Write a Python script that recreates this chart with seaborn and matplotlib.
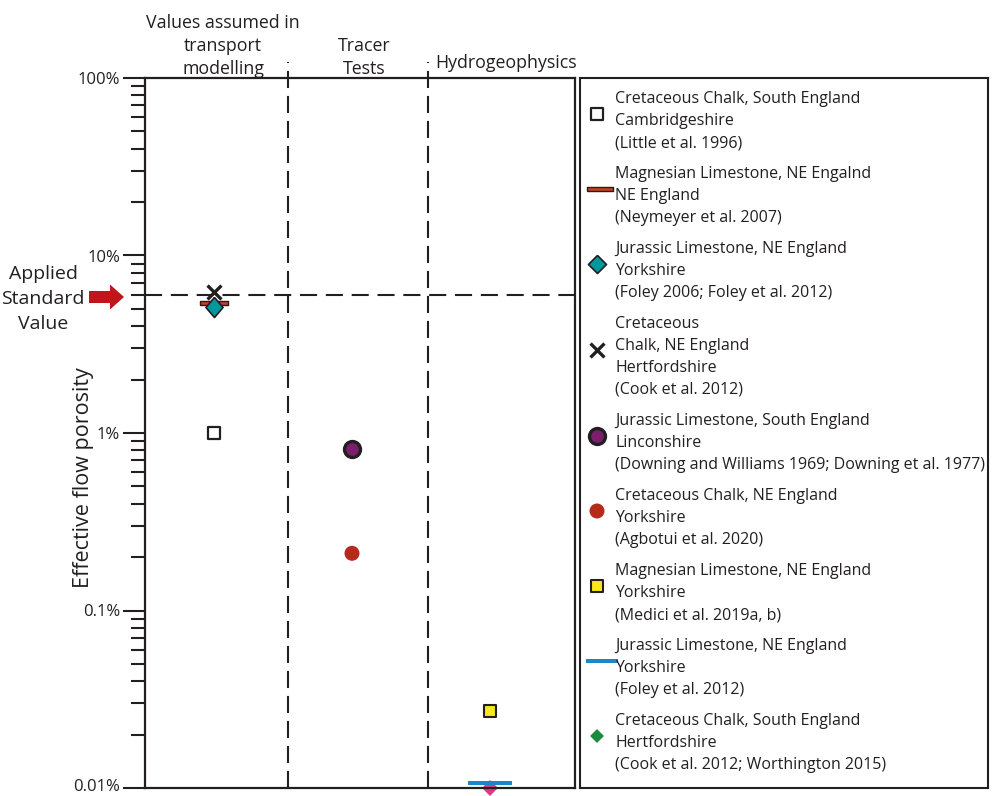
import numpy as np
import pandas as pd
import matplotlib
matplotlib.use("Agg")
import matplotlib.pyplot as plt
from matplotlib.patches import FancyArrow
from matplotlib.ticker import LogLocator, NullFormatter
from matplotlib.transforms import ScaledTranslation
import seaborn as sns

# ---- data -------------------------------------------------------------
methods = ["Values assumed in\ntransport\nmodelling", "Tracer\nTests", "Hydrogeophysics"]

series_labels = [
    "Cretaceous Chalk, South England\nCambridgeshire\n(Little et al. 1996)",
    "Magnesian Limestone, NE Engalnd\nNE England\n(Neymeyer et al. 2007)",
    "Jurassic Limestone, NE England\nYorkshire\n(Foley 2006; Foley et al. 2012)",
    "Cretaceous\nChalk, NE England\nHertfordshire\n(Cook et al. 2012)",
    "Jurassic Limestone, South England\nLinconshire\n(Downing and Williams 1969; Downing et al. 1977)",
    "Cretaceous Chalk, NE England\nYorkshire\n(Agbotui et al. 2020)",
    "Magnesian Limestone, NE England\nYorkshire\n(Medici et al. 2019a, b)",
    "Jurassic Limestone, NE England\nYorkshire\n(Foley et al. 2012)",
    "Cretaceous Chalk, South England\nHertfordshire\n(Cook et al. 2012; Worthington 2015)",
]
series_method = [0, 0, 0, 0, 1, 1, 2, 2, 2]
series_porosity = [1.0, 5.4, 5.1, 6.2, 0.81, 0.21, 0.027, 0.0107, 0.0100]  # percent

applied_standard = 6.0  # percent
tick_values = [0.01, 0.1, 1, 10, 100]
tick_labels = ["0.01%", "0.1%", "1%", "10%", "100%"]

df = pd.DataFrame({"method": series_method, "porosity": series_porosity,
                   "label": series_labels})

# ---- marker styles ------------------------------------------------------
INK = "#231f20"


def bar(aspect):
    return [(-1, -aspect), (1, -aspect), (1, aspect), (-1, aspect), (-1, -aspect)]


DIAMOND_TALL = [(0, 1), (0.85, 0), (0, -1), (-0.85, 0), (0, 1)]
DIAMOND = [(0, 1), (1, 0), (0, -1), (-1, 0), (0, 1)]

styles = [
    dict(marker="s", size=8.6, face="white", edge=INK, lw=1.6, z=3),
    dict(marker=bar(0.13), size=20.5, face="#C8401E", edge=INK, lw=1.0, z=3),
    dict(marker=DIAMOND_TALL, size=14.5, face="#00979D", edge=INK, lw=1.2, z=3.5),
    dict(marker="x", size=10, face=INK, edge=None, lw=2.4, z=4),
    dict(marker="o", size=11.5, face="#7B1E6C", edge=INK, lw=2.4, z=3),
    dict(marker="o", size=10.8, face="#B52A1B", edge="none", lw=0, z=3),
    dict(marker="s", size=8.6, face="#F7E71C", edge=INK, lw=1.5, z=3),
    dict(marker=bar(0.1), size=31.7, face="#1B87C8", edge="none", lw=0, z=3),
    dict(marker=DIAMOND, size=11.5, face="#E0398C", edge="none", lw=0, z=1),
]
# legend swatches that differ from the plotted symbol
legend_overrides = {
    1: dict(size=18.7),
    2: dict(marker=DIAMOND, size=13),
    7: dict(marker=bar(0.12), size=23.7),
    8: dict(face="#1A8A3F", size=10),
}

# ---- figure -------------------------------------------------------------
sns.set_theme(style="ticks")
plt.rcParams["font.family"] = ["Open Sans", "DejaVu Sans"]
plt.rcParams["text.color"] = INK

W, H = 996, 796
fig = plt.figure(figsize=(W / 100, H / 100), dpi=100)


def fx(px):
    return px / W


def fy(py):
    return 1 - py / H


ax = fig.add_axes([fx(145), fy(788), fx(575) - fx(145), fy(78) - fy(788)])
ax.set_yscale("log")

for i, row in df.iterrows():
    st = styles[i]
    kws = dict(marker=st["marker"], s=st["size"] ** 2, color=st["face"],
               linewidth=st["lw"], zorder=st["z"], clip_on=False, legend=False)
    if st["edge"] is not None:
        kws["edgecolor"] = st["edge"]
    sns.scatterplot(data=df.iloc[[i]], x="method", y="porosity", ax=ax, **kws)

ax.set_xlim(-0.5, 2.616)
ax.set_ylim(0.01, 100)
ax.set_xlabel("")
ax.set_ylabel("")
ax.set_xticks([])
ax.set_yticks(tick_values, tick_labels)
ax.yaxis.set_minor_locator(LogLocator(base=10, subs=np.arange(2, 10)))
ax.yaxis.set_minor_formatter(NullFormatter())
ax.tick_params(axis="y", which="major", length=16, width=1.5, pad=2,
               labelsize=12, color=INK, labelcolor=INK, left=True)
ax.tick_params(axis="y", which="minor", length=10, width=1.5, color=INK, left=True)
ax.tick_params(axis="x", which="both", bottom=False)
for sp in ax.spines.values():
    sp.set_color(INK)
    sp.set_linewidth(1.6)
    sp.set_visible(True)

# lift the lowest tick label a little so it stays inside the canvas
low_label = ax.yaxis.get_major_ticks()[0].label1
low_label.set_transform(low_label.get_transform()
                        + ScaledTranslation(0, 0.03, fig.dpi_scale_trans))

# column dividers rising above the frame into the header area
for xb in (0.536, 1.551):
    ax.plot([xb, xb], [0.01, 123], color=INK, lw=1.5, dashes=(8.2, 3.8),
            clip_on=False, zorder=2)
# applied standard porosity
ax.axhline(applied_standard, color=INK, lw=1.5, dashes=(8.2, 4.2), zorder=2)

# ---- column headers -----------------------------------------------------
header_x = [223, 364, 506]
header_last_y = [67, 67, 61]
for m, label in enumerate(methods):
    lines = label.split("\n")
    n = len(lines)
    for k, line in enumerate(lines):
        y = header_last_y[m] - (n - 1 - k) * 23
        fig.text(fx(header_x[m]), fy(y), line, ha="center", va="center_baseline",
                 fontsize=12.8)

# ---- y label and applied standard marker ----------------------------------
fig.text(fx(83), fy(478), "Effective flow porosity", rotation=90,
         ha="center", va="center", fontsize=15.5)
for k, line in enumerate(["Applied", "Standard", "Value"]):
    fig.text(fx(43), fy(272 + 25 * k), line, ha="center", va="center_baseline",
             fontsize=14)
fig.add_artist(FancyArrow(0.89, (H - 297) / 100, 0.35, 0, width=0.12,
                          head_width=0.25, head_length=0.14,
                          length_includes_head=True, color="#C0161B", lw=0,
                          transform=fig.dpi_scale_trans))

# ---- legend panel -------------------------------------------------------
lax = fig.add_axes([fx(580), fy(788), fx(988) - fx(580), fy(78) - fy(788)])
lax.set_xlim(580, 988)
lax.set_ylim(788, 78)
lax.set_xticks([])
lax.set_yticks([])
lax.tick_params(left=False, bottom=False)
for sp in lax.spines.values():
    sp.set_color(INK)
    sp.set_linewidth(1.5)
    sp.set_visible(True)

top = 97
for i, label in enumerate(series_labels):
    lines = label.split("\n")
    n = len(lines)
    st = dict(styles[i])
    st.update(legend_overrides.get(i, {}))
    my = top + 11 * (n - 1) - 5
    mx = {1: 600, 7: 602}.get(i, 597)
    kws = dict(marker=st["marker"], s=st["size"] ** 2, color=st["face"],
               linewidth=st["lw"], zorder=3, clip_on=False)
    if st["edge"] is not None:
        kws["edgecolor"] = st["edge"]
    lax.scatter([mx], [my], **kws)
    for k, line in enumerate(lines):
        lax.text(615, top + 22 * k, line, ha="left", va="center_baseline",
                 fontsize=11.5)
    top += 22 * n + 9

fig.savefig("out.png", dpi=100)
